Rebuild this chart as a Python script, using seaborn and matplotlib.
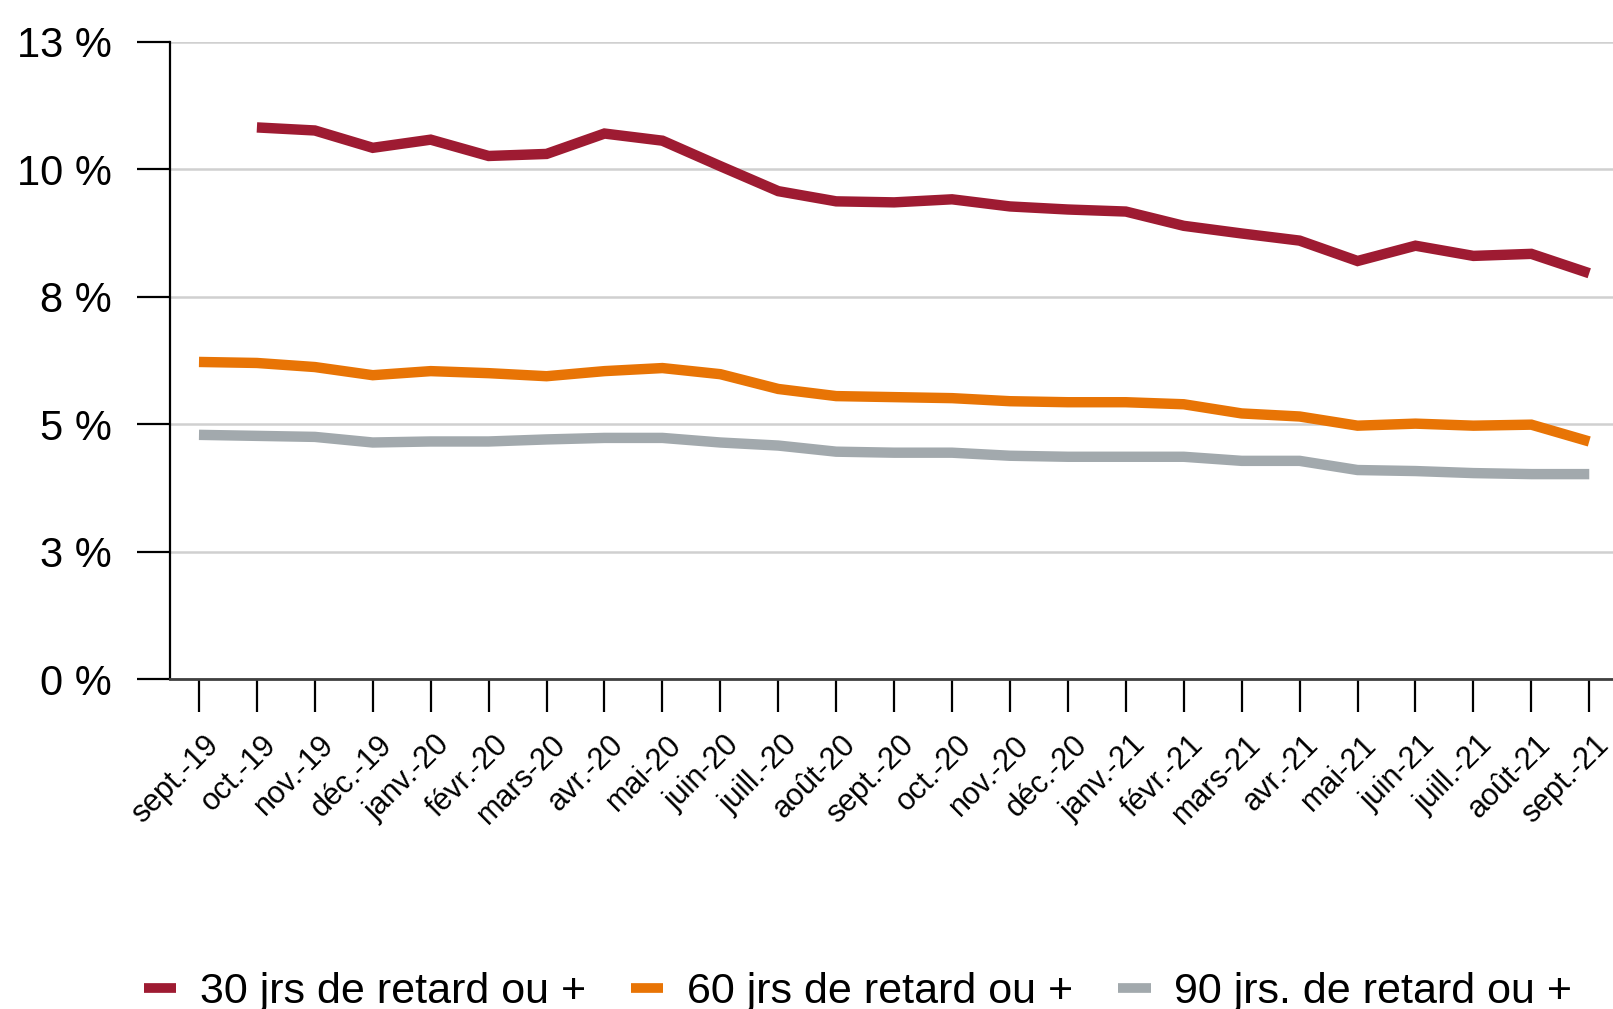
import numpy as np
import pandas as pd
import matplotlib
matplotlib.use("Agg")
import matplotlib.pyplot as plt
import matplotlib.transforms as mtransforms
import seaborn as sns
from matplotlib.lines import Line2D

months = ["sept.-19", "oct.-19", "nov.-19", "déc.-19", "janv.-20", "févr.-20",
          "mars-20", "avr.-20", "mai-20", "juin-20", "juill.-20", "août-20",
          "sept.-20", "oct.-20", "nov.-20", "déc.-20", "janv.-21", "févr.-21",
          "mars-21", "avr.-21", "mai-21", "juin-21", "juill.-21", "août-21",
          "sept.-21"]

retard_30 = [np.nan, 10.82, 10.76, 10.42, 10.58, 10.26, 10.30, 10.70, 10.56,
             10.06, 9.57, 9.37, 9.35, 9.41, 9.27, 9.21, 9.17, 8.89, 8.74,
             8.60, 8.20, 8.50, 8.30, 8.34, 7.96]
retard_60 = [6.22, 6.20, 6.12, 5.96, 6.04, 6.00, 5.94, 6.04, 6.10, 5.98, 5.69,
             5.55, 5.53, 5.51, 5.45, 5.43, 5.43, 5.39, 5.21, 5.15, 4.97, 5.01,
             4.97, 4.99, 4.66]
retard_90 = [4.79, 4.77, 4.75, 4.64, 4.66, 4.66, 4.70, 4.73, 4.73, 4.64, 4.58,
             4.46, 4.44, 4.44, 4.38, 4.36, 4.36, 4.36, 4.28, 4.28, 4.10, 4.08,
             4.04, 4.02, 4.02]

series_names = ["30 jrs de retard ou +", "60 jrs de retard ou +",
                "90 jrs. de retard ou +"]
colors = ["#9E1B32", "#E87405", "#A2A9AD"]

y_ticks = [0, 2.5, 5, 7.5, 10, 12.5]
y_labels = ["0 %", "3 %", "5 %", "8 %", "10 %", "13 %"]

rows = []
for name, vals in zip(series_names, [retard_30, retard_60, retard_90]):
    for i, v in enumerate(vals):
        rows.append({"idx": i, "val": v, "serie": name})
df = pd.DataFrame(rows)

sns.set_style("white")
plt.rcParams["font.family"] = ["Liberation Sans", "DejaVu Sans"]
plt.rcParams["text.color"] = "black"
plt.rcParams["xtick.color"] = "black"
plt.rcParams["ytick.color"] = "black"

fig = plt.figure(figsize=(16.13, 10.09), dpi=100)
ax = fig.add_axes([0.1054, 0.327, 0.8946, 0.6316])

sns.lineplot(data=df, x="idx", y="val", hue="serie", palette=colors,
             hue_order=series_names, legend=False, ax=ax)
for line in ax.lines:
    line.set_linewidth(7.5)
    line.set_solid_joinstyle("miter")
    line.set_solid_capstyle("butt")

ax.set_xlim(-0.5, 24.41)
ax.set_ylim(0, 12.5)
ax.set_xlabel("")
ax.set_ylabel("")

ax.yaxis.grid(True, color="#D0D0D0", linewidth=1.8)
ax.xaxis.grid(False)
ax.set_axisbelow(True)

for s in ["top", "right"]:
    ax.spines[s].set_visible(False)
ax.spines["left"].set_color("black")
ax.spines["left"].set_linewidth(1.6)
ax.spines["bottom"].set_color("#404040")
ax.spines["bottom"].set_linewidth(2)

ax.tick_params(axis="y", length=24, width=1.6, color="black", pad=18,
               left=True)
ax.tick_params(axis="x", length=24, width=1.6, color="black", pad=26,
               bottom=True)

ax.set_yticks(y_ticks)
ax.set_yticklabels(y_labels, fontsize=30)
ax.set_xticks(range(len(months)))
ax.set_xticklabels(months, fontsize=22, rotation=45, ha="right",
                   va="center", rotation_mode="anchor")
# nudge the rotated month labels to the right and up a little
shift = mtransforms.ScaledTranslation(0.15, 0.08, fig.dpi_scale_trans)
for lab in ax.get_xticklabels():
    lab.set_transform(lab.get_transform() + shift)

handles = [Line2D([0], [0], color=c, linewidth=7, solid_capstyle="butt")
           for c in colors]
fig.legend(handles, series_names, loc="center", bbox_to_anchor=(0.532, 0.017),
           ncol=3, frameon=False, fontsize=31, handlelength=0.75,
           handletextpad=0.55, columnspacing=1.05)

plt.savefig("out.png", dpi=100)
